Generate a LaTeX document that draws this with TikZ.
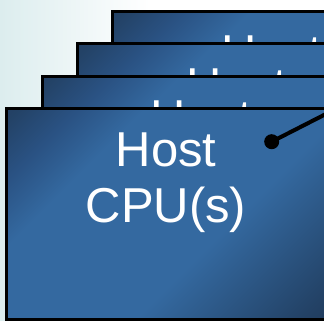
\documentclass[tikz,border=0pt]{standalone}
\usepackage{fontspec}
\setmainfont{Liberation Sans}
\definecolor{bgleft}{HTML}{DCEDEE}
\definecolor{boxdarkA}{HTML}{1C3353}
\definecolor{boxmdark}{HTML}{234266}
\definecolor{boxmid}{HTML}{2A5283}
\definecolor{boxlight}{HTML}{3469A0}
\definecolor{boxdarkB}{HTML}{1B2F4A}
\pgfdeclarehorizontalshading{hostshade}{100bp}{color(0bp)=(boxdarkA); color(4bp)=(boxdarkA); color(16bp)=(boxmdark); color(24bp)=(boxmid); color(33bp)=(boxlight); color(60bp)=(boxlight); color(82bp)=(boxmdark); color(95bp)=(boxdarkB); color(100bp)=(boxdarkB)}
\begin{document}
\begin{tikzpicture}[x=1pt,y=1pt,
  hostbox/.style={draw=black, line width=3pt, rectangle, anchor=north west,
    minimum width=318.6pt, minimum height=210.7pt, inner sep=0pt, outer sep=0pt,
    shading=hostshade, shading angle=-45},
  hosttext/.style={text=white, anchor=base, inner sep=0pt,
    font=\fontsize{49}{56}\selectfont}]
\useasboundingbox (0,0) rectangle (324,321);
\clip (0,0) rectangle (324,321);
\fill[white] (0,0) rectangle (324,321);
\shade[left color=bgleft, right color=white] (0,0) rectangle (150,321);
% back to front
\foreach \i/\x/\y in {4/112.6/309.4, 3/77.3/277.0, 2/42.0/244.6, 1/6.7/212.2}{
  \node[hostbox] (box\i) at (\x,\y) {};
  \node[hosttext] (host\i) at ([shift={(159.3,-58.2)}]box\i.north west) {Host};
  \node[hosttext] (cpu\i) at ([shift={(159.3,-114.2)}]box\i.north west) {CPU(s)};
}
\node[circle, fill=black, minimum size=15pt, inner sep=0pt] (dot) at (271.7,179.3) {};
\coordinate (lineend) at (340,214.2);
\draw[line width=4pt] (dot.center) -- (lineend);
\end{tikzpicture}
\end{document}
